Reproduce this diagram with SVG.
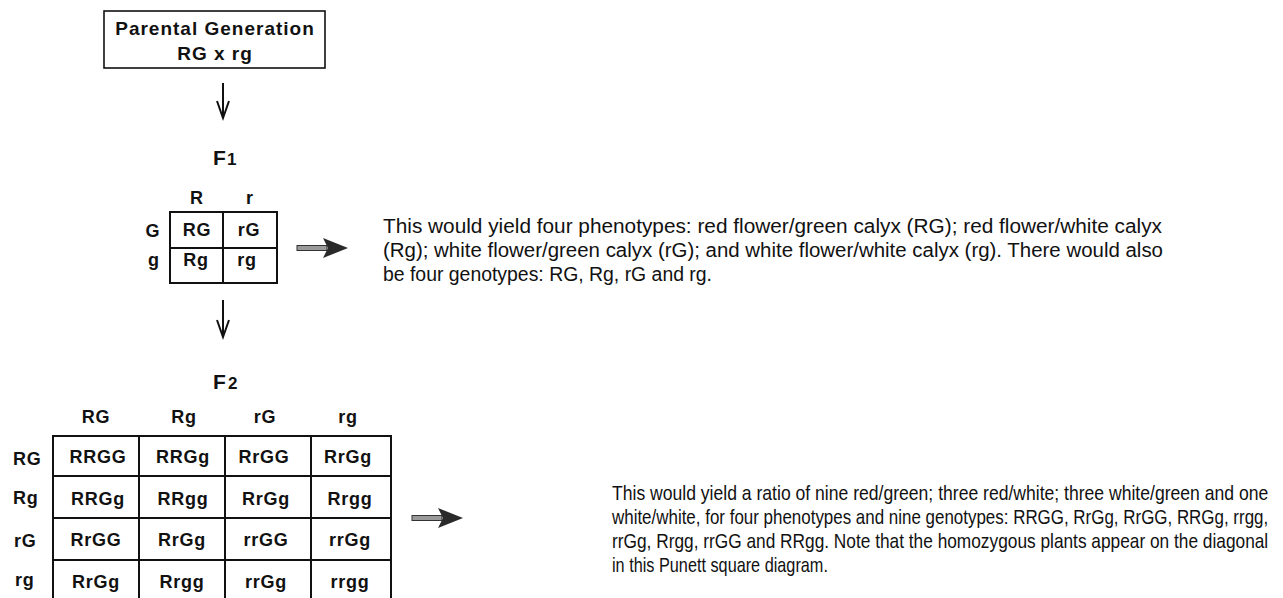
<svg xmlns="http://www.w3.org/2000/svg" width="1283" height="598" viewBox="0 0 1283 598">
<style>
  .bg{fill:#fff}
  .lbl{font-family:"Liberation Sans",Arial,sans-serif;font-weight:bold;font-size:18px;fill:#111;letter-spacing:0.8px}
  .cell{text-anchor:middle}
  .big{font-family:"Liberation Sans",Arial,sans-serif;font-weight:bold;fill:#111}
  .body{font-family:"Liberation Sans",Arial,sans-serif;font-size:20px;fill:#111}
  .grid{fill:none;stroke:#111;stroke-width:2}
  .box{fill:none;stroke:#111;stroke-width:1.6}
  .thin{fill:none;stroke:#111;stroke-width:2}
  .shaft{fill:#9a9a9a;stroke:#333;stroke-width:1}
  .head{fill:#2a2a2a}
</style>
<rect class="bg" x="0" y="0" width="1283" height="598"/>

<g id="parental">
  <rect class="box" x="104" y="11" width="221" height="57"/>
  <text class="lbl" x="215" y="35" text-anchor="middle" style="font-size:19px;letter-spacing:1px">Parental Generation</text>
  <text class="lbl" x="215" y="60" text-anchor="middle" style="font-size:19px;letter-spacing:1px">RG x rg</text>
</g>

<g id="connectors">
  <line class="thin" x1="223" y1="83" x2="223" y2="117"/>
  <path class="thin" d="M217,101 L223,118 L229,101"/>
  <line class="thin" x1="223" y1="300" x2="223" y2="336"/>
  <path class="thin" d="M217,320 L223,337 L229,320"/>
  <rect class="shaft" x="297" y="245.5" width="30" height="5"/>
  <polygon class="head" points="323,238 348,248 323,258 328,248"/>
  <rect class="shaft" x="412" y="515.5" width="30" height="5"/>
  <polygon class="head" points="438,508 463,518 438,528 443,518"/>
</g>

<g id="f1-label">
  <text class="big" x="213" y="165" style="font-size:21px">F</text>
  <text class="big" x="227" y="165" style="font-size:17px">1</text>
</g>

<g id="f1-square">
  <rect class="grid" x="170" y="212" width="107" height="71"/>
  <line class="grid" x1="223" y1="212" x2="223" y2="283"/>
  <line class="grid" x1="170" y1="248" x2="277" y2="248"/>
  <text class="lbl cell" x="197" y="204">R</text>
  <text class="lbl cell" x="250" y="204">r</text>
  <text class="lbl cell" x="153" y="237">G</text>
  <text class="lbl cell" x="154" y="266">g</text>
  <text class="lbl cell" x="197" y="236">RG</text>
  <text class="lbl cell" x="249" y="236">rG</text>
  <text class="lbl cell" x="196" y="266">Rg</text>
  <text class="lbl cell" x="247" y="266">rg</text>
</g>

<g id="f1-text">
  <text class="body" x="383" y="233" textLength="779" lengthAdjust="spacingAndGlyphs">This would yield four phenotypes: red flower/green calyx (RG); red flower/white calyx</text>
  <text class="body" x="383" y="257" textLength="780" lengthAdjust="spacingAndGlyphs">(Rg); white flower/green calyx (rG); and white flower/white calyx (rg). There would also</text>
  <text class="body" x="383" y="281" textLength="329" lengthAdjust="spacingAndGlyphs">be four genotypes: RG, Rg, rG and rg.</text>
</g>

<g id="f2-label">
  <text class="big" x="213" y="389" style="font-size:21px">F</text>
  <text class="big" x="228" y="389" style="font-size:17px">2</text>
</g>

<g id="f2-square">
  <rect class="grid" x="53" y="436" width="338" height="170"/>
  <line class="grid" x1="139" y1="436" x2="139" y2="606"/>
  <line class="grid" x1="225" y1="436" x2="225" y2="606"/>
  <line class="grid" x1="311" y1="436" x2="311" y2="606"/>
  <line class="grid" x1="53" y1="476" x2="391" y2="476"/>
  <line class="grid" x1="53" y1="518" x2="391" y2="518"/>
  <line class="grid" x1="53" y1="560" x2="391" y2="560"/>
  <text class="lbl cell" x="96" y="423">RG</text>
  <text class="lbl cell" x="184" y="423">Rg</text>
  <text class="lbl cell" x="265" y="423">rG</text>
  <text class="lbl cell" x="348" y="423">rg</text>
  <text class="lbl" x="13" y="465">RG</text>
  <text class="lbl" x="13" y="504">Rg</text>
  <text class="lbl" x="14" y="547">rG</text>
  <text class="lbl" x="15" y="586">rg</text>
  <text class="lbl cell" x="98" y="463">RRGG</text>
  <text class="lbl cell" x="183" y="463">RRGg</text>
  <text class="lbl cell" x="264" y="463">RrGG</text>
  <text class="lbl cell" x="348" y="463">RrGg</text>
  <text class="lbl cell" x="98" y="505">RRGg</text>
  <text class="lbl cell" x="183" y="505">RRgg</text>
  <text class="lbl cell" x="266" y="505">RrGg</text>
  <text class="lbl cell" x="350" y="505">Rrgg</text>
  <text class="lbl cell" x="96" y="546">RrGG</text>
  <text class="lbl cell" x="182" y="546">RrGg</text>
  <text class="lbl cell" x="266" y="546">rrGG</text>
  <text class="lbl cell" x="350" y="546">rrGg</text>
  <text class="lbl cell" x="96" y="588">RrGg</text>
  <text class="lbl cell" x="182" y="588">Rrgg</text>
  <text class="lbl cell" x="266" y="588">rrGg</text>
  <text class="lbl cell" x="350" y="588">rrgg</text>
</g>

<g id="f2-text" transform="translate(612,0) scale(0.85,1)">
  <text class="body" x="0" y="500" textLength="772" lengthAdjust="spacingAndGlyphs">This would yield a ratio of nine red/green; three red/white; three white/green and one</text>
  <text class="body" x="0" y="524" textLength="772" lengthAdjust="spacingAndGlyphs">white/white, for four phenotypes and nine genotypes: RRGG, RrGg, RrGG, RRGg, rrgg,</text>
  <text class="body" x="0" y="548" textLength="772" lengthAdjust="spacingAndGlyphs">rrGg, Rrgg, rrGG and RRgg. Note that the homozygous plants appear on the diagonal</text>
  <text class="body" x="0" y="572" textLength="254" lengthAdjust="spacingAndGlyphs">in this Punett square diagram.</text>
</g>
</svg>
